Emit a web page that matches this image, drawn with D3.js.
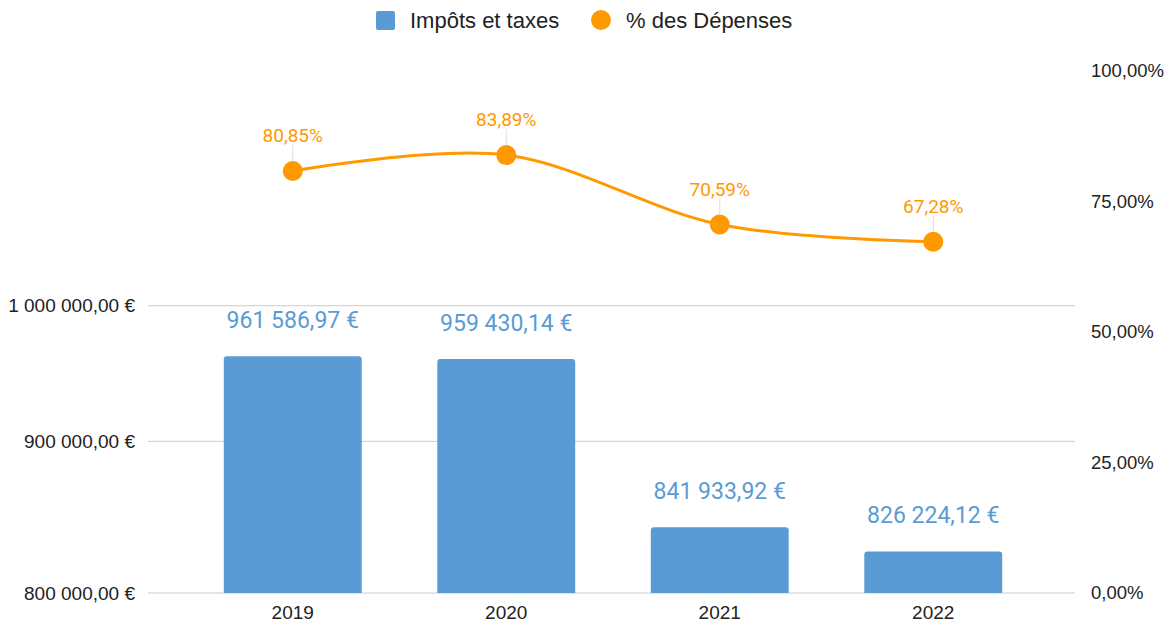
<!DOCTYPE html>
<html>
<head>
<meta charset="utf-8">
<script src="https://cdn.jsdelivr.net/npm/d3@7"></script>
<style>
    body { margin: 0; background: #fff; }
</style>
</head>
<body>
<svg class="main-svg" width="1167" height="623"></svg>
<script>
// data
const years = ["2019", "2020", "2021", "2022"];
const impots = [961586.97, 959430.14, 841933.92, 826224.12];
const pctDepenses = [80.85, 83.89, 70.59, 67.28];
const leftTicks = [800000, 900000, 1000000];
const rightTicks = [0, 25, 50, 75, 100];

const blue = "#5b9bd5";
const orange = "#ff9900";
const axisFont = "Liberation Sans, Arial, sans-serif";

const fr = d3.formatLocale({decimal: ",", thousands: " ", grouping: [3], currency: ["", " €"]});
const fmtEuro = fr.format("$,.2f");
const fmtPct = v => fr.format(".2f")(v) + "%";

let svg = d3.select(".main-svg");

let plot = {left: 148, right: 1075, top: 71, bottom: 593};

// scales
let x = d3.scaleBand()
    .domain(years)
    .range([186, 1040])
    .paddingInner(0.354)
    .paddingOuter(0.177);

let yLeft = d3.scaleLog()
    .domain([800000, 1200000])
    .range([plot.bottom, plot.top]);

let yRight = d3.scaleLinear()
    .domain([0, 100])
    .range([plot.bottom, plot.top]);

// gridlines
svg.append("g")
    .selectAll("line")
    .data(leftTicks)
    .enter().append("line")
    .attr("x1", plot.left)
    .attr("x2", plot.right)
    .attr("y1", d => yLeft(d))
    .attr("y2", d => yLeft(d))
    .attr("stroke", "#cccccc")
    .attr("stroke-width", 1);

// left axis
let leftAxis = svg.append("g")
    .attr("transform", `translate(${plot.left - 10},0)`)
    .call(d3.axisLeft(yLeft).tickValues(leftTicks).tickFormat(fmtEuro).tickSize(0));
leftAxis.select(".domain").remove();
leftAxis.selectAll("text")
    .attr("font-family", axisFont)
    .attr("font-size", "19px")
    .attr("fill", "#222");

// right axis
let rightAxis = svg.append("g")
    .attr("transform", `translate(${plot.right + 13},0)`)
    .call(d3.axisRight(yRight).tickValues(rightTicks).tickFormat(fmtPct).tickSize(0));
rightAxis.select(".domain").remove();
rightAxis.selectAll("text")
    .attr("font-family", axisFont)
    .attr("font-size", "18.5px")
    .attr("fill", "#222");

// x axis
let xAxis = svg.append("g")
    .attr("transform", `translate(0,${plot.bottom + 9})`)
    .call(d3.axisBottom(x).tickSize(0));
xAxis.select(".domain").remove();
xAxis.selectAll("text")
    .attr("font-family", axisFont)
    .attr("font-size", "19px")
    .attr("fill", "#222");

// bars (small rounded top corners)
let r = 3;
svg.append("g")
    .selectAll("path")
    .data(impots)
    .enter().append("path")
    .attr("fill", blue)
    .attr("d", function (d, i) {
        let x0 = x(years[i]), x1 = x0 + x.bandwidth();
        let y0 = yLeft(d), y1 = plot.bottom;
        return `M${x0},${y1} V${y0 + r} Q${x0},${y0} ${x0 + r},${y0} H${x1 - r} Q${x1},${y0} ${x1},${y0 + r} V${y1} Z`;
    });

// bar labels
svg.append("g")
    .selectAll("text")
    .data(impots)
    .enter().append("text")
    .attr("x", (d, i) => x(years[i]) + x.bandwidth() / 2)
    .attr("y", d => yLeft(d) - 28)
    .attr("text-anchor", "middle")
    .attr("font-family", "Roboto, sans-serif")
    .attr("font-size", "23px")
    .attr("fill", blue)
    .text(d => fmtEuro(d));

// line
let line = d3.line()
    .x((d, i) => x(years[i]) + x.bandwidth() / 2)
    .y(d => yRight(d))
    .curve(d3.curveCardinal.tension(0));

svg.append("path")
    .datum(pctDepenses)
    .attr("d", line)
    .attr("fill", "none")
    .attr("stroke", orange)
    .attr("stroke-width", 3);

// leader lines
svg.append("g")
    .selectAll("line")
    .data(pctDepenses)
    .enter().append("line")
    .attr("x1", (d, i) => x(years[i]) + x.bandwidth() / 2)
    .attr("x2", (d, i) => x(years[i]) + x.bandwidth() / 2)
    .attr("y1", d => yRight(d) - 10)
    .attr("y2", d => yRight(d) - 26)
    .attr("stroke", "#dddddd")
    .attr("stroke-width", 1);

// points
svg.append("g")
    .selectAll("circle")
    .data(pctDepenses)
    .enter().append("circle")
    .attr("cx", (d, i) => x(years[i]) + x.bandwidth() / 2)
    .attr("cy", d => yRight(d))
    .attr("r", 10)
    .attr("fill", orange);

// point labels
svg.append("g")
    .selectAll("text")
    .data(pctDepenses)
    .enter().append("text")
    .attr("x", (d, i) => x(years[i]) + x.bandwidth() / 2)
    .attr("y", d => yRight(d) - 29)
    .attr("text-anchor", "middle")
    .attr("font-family", "Roboto, sans-serif")
    .attr("font-size", "19px")
    .attr("fill", orange)
    .text(d => fmtPct(d));

// legend
let legend = svg.append("g");
legend.append("rect")
    .attr("x", 376)
    .attr("y", 11)
    .attr("width", 19)
    .attr("height", 19)
    .attr("rx", 2)
    .attr("fill", blue);
legend.append("text")
    .attr("x", 410)
    .attr("y", 28)
    .attr("font-family", axisFont)
    .attr("font-size", "22px")
    .attr("fill", "#222")
    .text("Impôts et taxes");
legend.append("circle")
    .attr("cx", 601)
    .attr("cy", 20)
    .attr("r", 10)
    .attr("fill", orange);
legend.append("text")
    .attr("x", 626)
    .attr("y", 28)
    .attr("font-family", axisFont)
    .attr("font-size", "22px")
    .attr("fill", "#222")
    .text("% des Dépenses");
</script>
</body>
</html>
